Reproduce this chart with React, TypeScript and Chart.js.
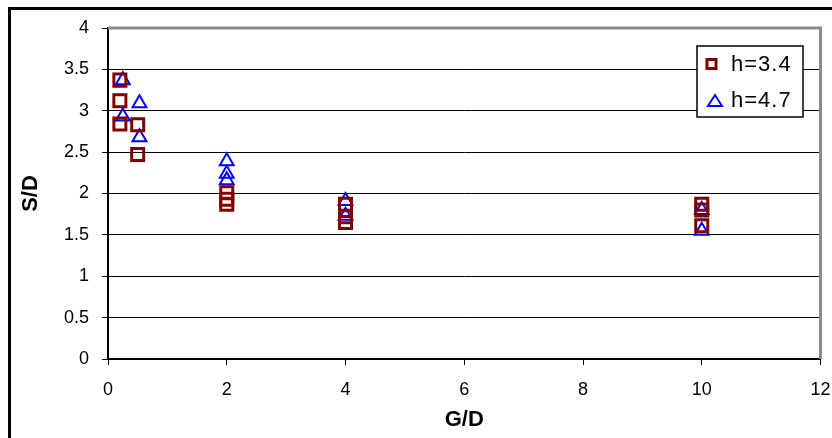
import React, { useEffect, useRef } from "react";
import { Chart, registerables } from "chart.js";

Chart.register(...registerables);

const seriesNames = ["h=3.4", "h=4.7"];
const h34X = [0.2, 0.2, 0.2, 0.5, 0.5, 2, 2, 2, 4, 4, 4, 10, 10, 10];
const h34Y = [3.37, 3.12, 2.84, 2.83, 2.47, 2.01, 1.93, 1.87, 1.87, 1.72, 1.65, 1.87, 1.8, 1.61];
const h47X = [0.25, 0.25, 0.53, 0.53, 2, 2, 2, 4, 4, 10, 10];
const h47Y = [3.37, 2.93, 3.09, 2.68, 2.39, 2.24, 2.16, 1.91, 1.73, 1.8, 1.55];
const xTicks = [0, 2, 4, 6, 8, 10, 12];
const yTicks = [0, 0.5, 1, 1.5, 2, 2.5, 3, 3.5, 4];

const FONT = "'Liberation Sans', Arial, sans-serif";

const framePlugin = {
  id: "framePlugin",
  beforeDatasetsDraw(chart: any) {
    const { ctx, chartArea: a } = chart;
    ctx.save();
    ctx.strokeStyle = "#8a8a8a";
    ctx.lineWidth = 3;
    ctx.beginPath();
    ctx.moveTo(a.left, a.top);
    ctx.lineTo(a.right, a.top);
    ctx.lineTo(a.right, a.bottom);
    ctx.stroke();
    ctx.restore();
  },
  afterDraw(chart: any) {
    const { ctx } = chart;
    ctx.save();
    ctx.strokeStyle = "#000";
    ctx.lineWidth = 3;
    ctx.strokeRect(9.5, 8.5, 900, 500);
    const bx = 697, by = 46, bw = 106, bh = 71;
    ctx.fillStyle = "#fff";
    ctx.fillRect(bx, by, bw, bh);
    ctx.strokeStyle = "#000";
    ctx.lineWidth = 1.5;
    ctx.strokeRect(bx, by, bw, bh);
    ctx.font = `22px ${FONT}`;
    try { (ctx as any).letterSpacing = "1px"; } catch (e) {}
    ctx.fillStyle = "#000";
    ctx.textBaseline = "middle";
    ctx.textAlign = "left";
    const ds = chart.data.datasets;
    const rows = [64, 100];
    ds.forEach((d: any, i: number) => {
      const cy = rows[i];
      ctx.strokeStyle = d.borderColor;
      ctx.lineWidth = i === 0 ? 3 : 2;
      ctx.beginPath();
      if (i === 0) {
        ctx.rect(707, cy - 4.5, 9, 9);
      } else {
        ctx.moveTo(715, cy - 5);
        ctx.lineTo(722, cy + 6);
        ctx.lineTo(708, cy + 6);
        ctx.closePath();
      }
      ctx.stroke();
      ctx.fillText(d.label, 731, cy + 1);
    });
    ctx.restore();
  },
};

export default function App() {
  const ref = useRef<HTMLCanvasElement | null>(null);
  useEffect(() => {
    if (!ref.current) return;
    const chart = new Chart(ref.current, {
      type: "scatter",
      data: {
        datasets: [
          {
            label: seriesNames[0],
            data: h34X.map((x, i) => ({ x, y: h34Y[i] })),
            pointStyle: "rect",
            pointRadius: 8.5,
            borderWidth: 3,
            borderColor: "#800000",
            backgroundColor: "rgba(255,255,255,0)",
          },
          {
            label: seriesNames[1],
            data: h47X.map((x, i) => ({ x, y: h47Y[i] })),
            pointStyle: "triangle",
            pointRadius: 8,
            borderWidth: 2,
            borderColor: "#0000ff",
            backgroundColor: "rgba(255,255,255,0)",
          },
        ],
      },
      options: {
        animation: false,
        responsive: false,
        devicePixelRatio: 1,
        layout: { padding: { top: 28, right: 0, left: 0, bottom: 0 } },
        plugins: { legend: { display: false }, tooltip: { enabled: false } },
        scales: {
          x: {
            type: "linear",
            min: 0,
            max: 12,
            afterBuildTicks: (s: any) => {
              s.ticks = xTicks.map((v) => ({ value: v }));
            },
            afterFit: (s: any) => {
              s.height = 79;
              s.paddingRight = 11;
            },
            ticks: {
              color: "#000",
              font: { family: FONT, size: 18 },
              padding: 14,
              callback: (v: any) => String(v),
            },
            grid: {
              drawOnChartArea: false,
              drawTicks: true,
              tickLength: 6,
              color: "#000",
            },
            border: { display: true, color: "#000", width: 2 },
            title: {
              display: true,
              text: "G/D",
              color: "#000",
              font: { family: FONT, size: 22, weight: "bold" },
              padding: { top: 0, bottom: 5 },
            },
          },
          y: {
            type: "linear",
            min: 0,
            max: 4,
            afterBuildTicks: (s: any) => {
              s.ticks = yTicks.map((v) => ({ value: v }));
            },
            afterFit: (s: any) => {
              s.width = 108;
            },
            ticks: {
              color: "#000",
              font: { family: FONT, size: 18 },
              padding: 13,
              callback: (v: any) => String(v),
            },
            grid: {
              drawOnChartArea: true,
              drawTicks: true,
              tickLength: 6,
              color: "#000",
              lineWidth: 1,
            },
            border: { display: true, color: "#000", width: 2 },
            title: {
              display: true,
              text: "S/D",
              color: "#000",
              font: { family: FONT, size: 22, weight: "bold" },
              padding: { top: 18, bottom: 0 },
            },
          },
        },
      },
      plugins: [framePlugin],
    } as any);
    return () => chart.destroy();
  }, []);
  return (
    <div style={{ position: "absolute", left: 0, top: 0, width: 832, height: 438, background: "#fff" }}>
      <canvas ref={ref} width={832} height={438} style={{ display: "block" }} />
    </div>
  );
}
